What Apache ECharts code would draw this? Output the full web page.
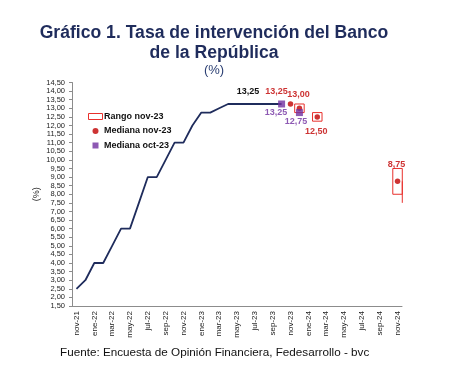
<!DOCTYPE html>
<html>
<head>
<meta charset="utf-8">
<script src="https://cdn.jsdelivr.net/npm/echarts@6/dist/echarts.min.js"></script>
<style>
html,body{margin:0;padding:0;background:#fff;}
#chart{width:453px;height:370px;}
</style>
</head>
<body>
<div id="chart"></div>
<script>
// ---- data ----
const months = ['nov-21','dic-21','ene-22','feb-22','mar-22','abr-22','may-22','jun-22','jul-22','ago-22','sep-22','oct-22',
  'nov-22','dic-22','ene-23','feb-23','mar-23','abr-23','may-23','jun-23','jul-23','ago-23','sep-23','oct-23',
  'nov-23','dic-23','ene-24','feb-24','mar-24','abr-24','may-24','jun-24','jul-24','ago-24','sep-24','oct-24','nov-24'];
const tasa = [2.50,3.00,4.00,4.00,5.00,6.00,6.00,7.50,9.00,9.00,10.00,11.00,11.00,12.00,12.75,12.75,13.00,13.25,13.25,13.25,13.25,13.25,13.25,13.25];
const medianaNovMonths = ['nov-23','dic-23','feb-24','nov-24'];
const medianaNov = [13.25,13.00,12.50,8.75];
const medianaOctMonths = ['oct-23','dic-23'];
const medianaOct = [13.25,12.75];
const rangoMonths = ['dic-23','feb-24','nov-24'];
const rangoLow = [12.75,12.25,8.00];
const rangoHigh = [13.25,12.75,9.50];
const rangoTail = [null,null,7.50];
const yMin = 1.5, yMax = 14.5, yStep = 0.5;

// ---- styles ----
const RED = '#c00000', BOX = '#e8302c', PURPLE = '#7030a0', NAVY = '#1f2c5c';
const FONT = 'Liberation Sans, Arial, sans-serif';
const fmt = v => v.toFixed(2).replace('.', ',');
const novOffsets = [[-14,-12],[-1,-13.5],[-1,15],[-1,-16.5]];
const octOffsets = [[-5.5,9],[-3.5,9]];

const chart = echarts.init(document.getElementById('chart'), null, {renderer:'canvas'});

const lineData = tasa.map((v,i) => i === 19
  ? {value:v, label:{show:true, position:'inside', offset:[2,-12], formatter: p => fmt(p.value), color:'#111', fontWeight:'bold', fontSize:9, fontFamily:FONT}}
  : v);

const novData = medianaNov.map((v,i) => ({
  value:[medianaNovMonths[i], v],
  label:{show:true, position:'inside', offset:novOffsets[i], formatter: fmt(v), color:RED, fontWeight:'bold', fontSize:9, fontFamily:FONT}
}));
const octData = medianaOct.map((v,i) => ({
  value:[medianaOctMonths[i], v],
  label:{show:true, position:'inside', offset:octOffsets[i], formatter: fmt(v), color:PURPLE, fontWeight:'bold', fontSize:9, fontFamily:FONT}
}));
const rangoData = rangoMonths.map((m,i) => [months.indexOf(m), rangoLow[i], rangoHigh[i], rangoTail[i] == null ? NaN : rangoTail[i], medianaNov[medianaNovMonths.indexOf(m)]]);

chart.setOption({
  animation:false,
  textStyle:{fontFamily:FONT},
  title:[
    {text:'Gráfico 1. Tasa de intervención del Banco\nde la República', left:209, top:18, textAlign:'center',
     textStyle:{fontFamily:FONT, fontSize:17.6, fontWeight:'bold', color:NAVY, lineHeight:20}},
    {text:'(%)', left:209, top:59, textAlign:'center', textStyle:{fontFamily:FONT, fontSize:13, fontWeight:'normal', color:'#2b3f73'}},
    {text:'Fuente: Encuesta de Opinión Financiera, Fedesarrollo - bvc', left:55, top:342,
     textStyle:{fontFamily:FONT, fontSize:11.7, fontWeight:'normal', color:'#111'}}
  ],
  legend:{
    orient:'vertical', left:83, top:107, itemWidth:14, itemHeight:6, itemGap:5.5,
    textStyle:{fontFamily:FONT, fontSize:9, fontWeight:'bold', color:'#111', padding:[0,0,0,-3.5]},
    data:[
      {name:'Rango nov-23', icon:'rect', itemStyle:{color:'#fff', borderColor:BOX, borderWidth:1}},
      {name:'Mediana nov-23', icon:'circle'},
      {name:'Mediana oct-23', icon:'path://M0,0L10,0L10,10L0,10Z'}
    ],
    selectedMode:false
  },
  grid:{left:72, right:51, top:82.5, bottom:64, containLabel:false},
  xAxis:{
    type:'category', data:months, boundaryGap:true,
    axisLine:{lineStyle:{color:'#8c8c8c', width:1}},
    axisTick:{show:false},
    axisLabel:{interval:1, rotate:90, fontSize:8, color:'#222', margin:5, fontFamily:FONT}
  },
  yAxis:{
    type:'value', min:yMin, max:yMax, interval:yStep,
    name:'(%)', nameLocation:'middle', nameGap:31, nameRotate:90, nameMoveOverlap:false,
    nameTextStyle:{fontSize:9, color:'#222', fontFamily:FONT},
    splitLine:{show:false},
    axisLine:{show:true, lineStyle:{color:'#8c8c8c', width:1}},
    axisTick:{show:true, inside:false, length:3, lineStyle:{color:'#8c8c8c'}},
    axisLabel:{formatter: v => fmt(v), fontSize:7.5, color:'#222', margin:7, fontFamily:FONT}
  },
  series:[
    {name:'Tasa', type:'line', data:lineData, showSymbol:true, symbolSize:0, symbol:'circle',
     lineStyle:{color:NAVY, width:1.8}, itemStyle:{color:NAVY}, z:2},
    {name:'Rango nov-23', type:'custom', z:3,
     itemStyle:{color:BOX},
     renderItem:function(params, api){
       const x = api.value(0);
       const lo = api.coord([x, api.value(1)]);
       const hi = api.coord([x, api.value(2)]);
       const w = 9.5;
       const children = [{type:'rect', shape:{x:lo[0]-w/2, y:hi[1], width:w, height:lo[1]-hi[1]},
         style:{fill:'rgba(255,255,255,0)', stroke:BOX, lineWidth:1}}];
       const tail = api.value(3);
       if (!isNaN(tail)) {
         const med = api.coord([x, api.value(4)]);
         const t = api.coord([x, tail]);
         children.push({type:'line', shape:{x1:lo[0]+w/2, y1:med[1], x2:lo[0]+w/2, y2:t[1]}, style:{stroke:BOX, lineWidth:1}});
       }
       return {type:'group', children:children};
     },
     encode:{x:0, y:[1,2]},
     data:rangoData},
    {name:'Mediana nov-23', type:'scatter', symbol:'circle', symbolSize:5.5, itemStyle:{color:RED}, data:novData, z:4},
    {name:'Mediana oct-23', type:'scatter', symbol:'rect', symbolSize:7, symbolKeepAspect:true, itemStyle:{color:PURPLE}, data:octData, z:5}
  ]
});
</script>
</body>
</html>
